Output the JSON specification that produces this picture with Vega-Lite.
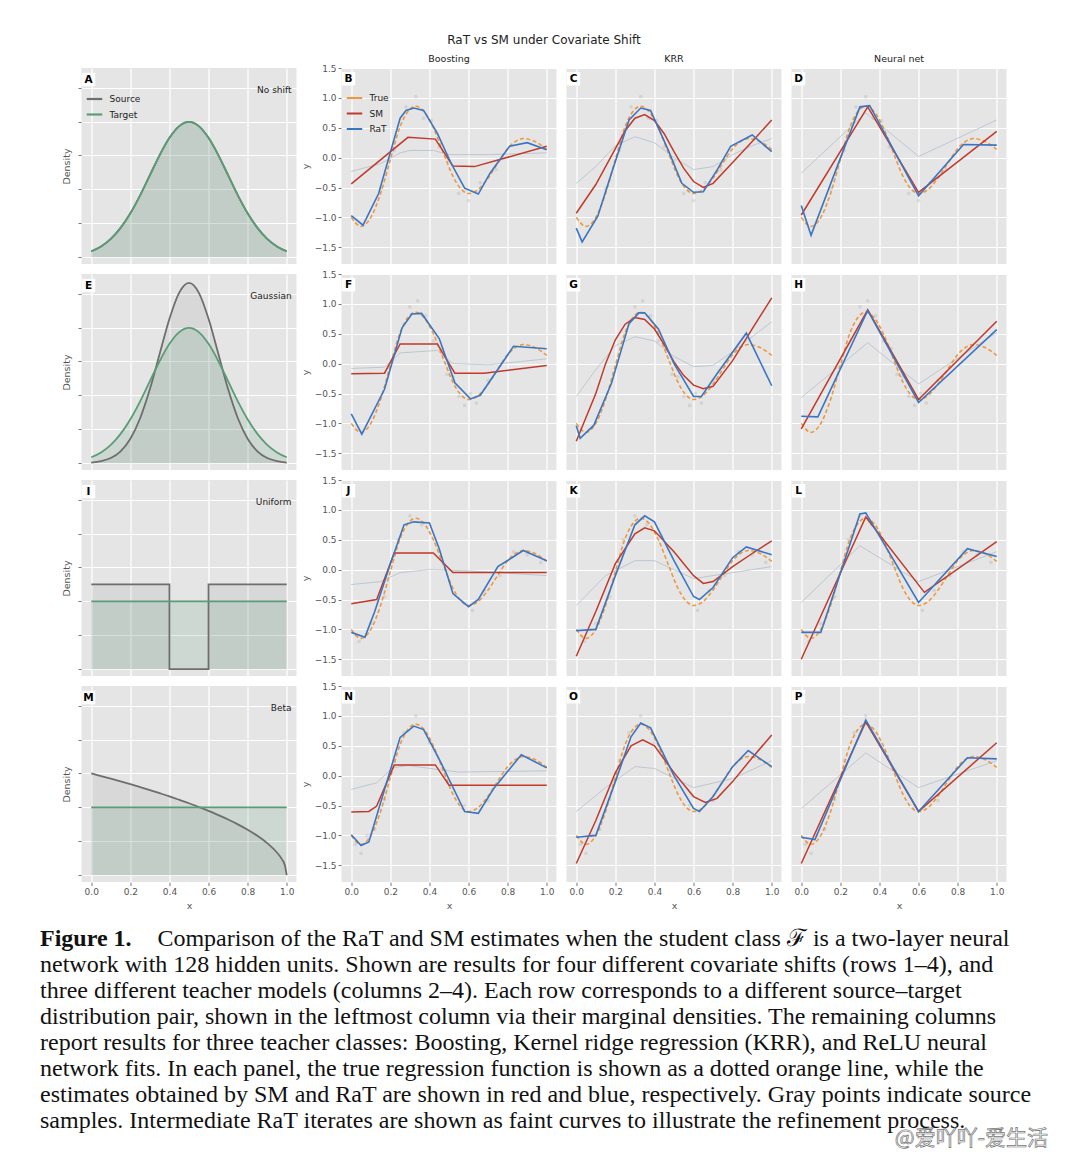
{
"$schema": "https://vega.github.io/schema/vega-lite/v6.json",
"padding": {"left": 40, "top": 33, "right": 5, "bottom": 5},
"background": "white",
"title": {"text": "RaT vs SM under Covariate Shift", "fontSize": 12, "font": "DejaVu Sans", "fontWeight": "normal", "color": "#222", "offset": 7, "anchor": "middle"},
"config": {
  "font": "DejaVu Sans",
  "view": {"fill": "#E5E5E5", "stroke": null},
  "axis": {"domain": false, "grid": true, "gridColor": "#ffffff", "gridWidth": 1.2, "tickColor": "#555", "tickSize": 3.5, "tickWidth": 0.8, "labelColor": "#555", "labelFontSize": 9, "labelFont": "DejaVu Sans", "titleFont": "DejaVu Sans", "titleFontSize": 9.5, "titleColor": "#555", "titleFontWeight": "normal", "labelPadding": 2, "labelFlush": false, "labelOverlap": false},
  "header": {"labelFont": "DejaVu Sans", "labelFontSize": 9.5, "labelColor": "#222", "labelPadding": 5},
  "legend": {"labelFont": "DejaVu Sans", "labelFontSize": 9, "labelColor": "#222", "symbolType": "stroke", "symbolStrokeWidth": 2.2, "symbolSize": 240, "rowPadding": 1.5, "labelOffset": 6, "padding": 0}
},
"datasets": {
"dens": [
{"r":1,"s":"Source","x":0,"y":0.088},{"r":1,"s":"Source","x":0.05,"y":0.159},{"r":1,"s":"Source","x":0.1,"y":0.27},{"r":1,"s":"Source","x":0.15,"y":0.432},{"r":1,"s":"Source","x":0.2,"y":0.648},{"r":1,"s":"Source","x":0.25,"y":0.913},{"r":1,"s":"Source","x":0.3,"y":1.21},{"r":1,"s":"Source","x":0.35,"y":1.506},{"r":1,"s":"Source","x":0.4,"y":1.76},{"r":1,"s":"Source","x":0.45,"y":1.933},{"r":1,"s":"Source","x":0.5,"y":1.995},{"r":1,"s":"Source","x":0.55,"y":1.933},{"r":1,"s":"Source","x":0.6,"y":1.76},{"r":1,"s":"Source","x":0.65,"y":1.506},{"r":1,"s":"Source","x":0.7,"y":1.21},{"r":1,"s":"Source","x":0.75,"y":0.913},{"r":1,"s":"Source","x":0.8,"y":0.648},{"r":1,"s":"Source","x":0.85,"y":0.432},{"r":1,"s":"Source","x":0.9,"y":0.27},{"r":1,"s":"Source","x":0.95,"y":0.159},{"r":1,"s":"Source","x":1,"y":0.088},
{"r":1,"s":"Target","x":0,"y":0.088},{"r":1,"s":"Target","x":0.05,"y":0.159},{"r":1,"s":"Target","x":0.1,"y":0.27},{"r":1,"s":"Target","x":0.15,"y":0.432},{"r":1,"s":"Target","x":0.2,"y":0.648},{"r":1,"s":"Target","x":0.25,"y":0.913},{"r":1,"s":"Target","x":0.3,"y":1.21},{"r":1,"s":"Target","x":0.35,"y":1.506},{"r":1,"s":"Target","x":0.4,"y":1.76},{"r":1,"s":"Target","x":0.45,"y":1.933},{"r":1,"s":"Target","x":0.5,"y":1.995},{"r":1,"s":"Target","x":0.55,"y":1.933},{"r":1,"s":"Target","x":0.6,"y":1.76},{"r":1,"s":"Target","x":0.65,"y":1.506},{"r":1,"s":"Target","x":0.7,"y":1.21},{"r":1,"s":"Target","x":0.75,"y":0.913},{"r":1,"s":"Target","x":0.8,"y":0.648},{"r":1,"s":"Target","x":0.85,"y":0.432},{"r":1,"s":"Target","x":0.9,"y":0.27},{"r":1,"s":"Target","x":0.95,"y":0.159},{"r":1,"s":"Target","x":1,"y":0.088},
{"r":2,"s":"Source","x":0,"y":0.01},{"r":2,"s":"Source","x":0.05,"y":0.03},{"r":2,"s":"Source","x":0.1,"y":0.076},{"r":2,"s":"Source","x":0.15,"y":0.175},{"r":2,"s":"Source","x":0.2,"y":0.36},{"r":2,"s":"Source","x":0.25,"y":0.663},{"r":2,"s":"Source","x":0.3,"y":1.093},{"r":2,"s":"Source","x":0.35,"y":1.613},{"r":2,"s":"Source","x":0.4,"y":2.13},{"r":2,"s":"Source","x":0.45,"y":2.516},{"r":2,"s":"Source","x":0.5,"y":2.66},{"r":2,"s":"Source","x":0.55,"y":2.516},{"r":2,"s":"Source","x":0.6,"y":2.13},{"r":2,"s":"Source","x":0.65,"y":1.613},{"r":2,"s":"Source","x":0.7,"y":1.093},{"r":2,"s":"Source","x":0.75,"y":0.663},{"r":2,"s":"Source","x":0.8,"y":0.36},{"r":2,"s":"Source","x":0.85,"y":0.175},{"r":2,"s":"Source","x":0.9,"y":0.076},{"r":2,"s":"Source","x":0.95,"y":0.03},{"r":2,"s":"Source","x":1,"y":0.01},
{"r":2,"s":"Target","x":0,"y":0.088},{"r":2,"s":"Target","x":0.05,"y":0.159},{"r":2,"s":"Target","x":0.1,"y":0.27},{"r":2,"s":"Target","x":0.15,"y":0.432},{"r":2,"s":"Target","x":0.2,"y":0.648},{"r":2,"s":"Target","x":0.25,"y":0.913},{"r":2,"s":"Target","x":0.3,"y":1.21},{"r":2,"s":"Target","x":0.35,"y":1.506},{"r":2,"s":"Target","x":0.4,"y":1.76},{"r":2,"s":"Target","x":0.45,"y":1.933},{"r":2,"s":"Target","x":0.5,"y":1.995},{"r":2,"s":"Target","x":0.55,"y":1.933},{"r":2,"s":"Target","x":0.6,"y":1.76},{"r":2,"s":"Target","x":0.65,"y":1.506},{"r":2,"s":"Target","x":0.7,"y":1.21},{"r":2,"s":"Target","x":0.75,"y":0.913},{"r":2,"s":"Target","x":0.8,"y":0.648},{"r":2,"s":"Target","x":0.85,"y":0.432},{"r":2,"s":"Target","x":0.9,"y":0.27},{"r":2,"s":"Target","x":0.95,"y":0.159},{"r":2,"s":"Target","x":1,"y":0.088},
{"r":3,"s":"Source","x":0,"y":1.25},{"r":3,"s":"Source","x":0.4,"y":0},{"r":3,"s":"Source","x":0.6,"y":1.25},{"r":3,"s":"Source","x":1,"y":1.25},
{"r":3,"s":"Target","x":0,"y":1},{"r":3,"s":"Target","x":1,"y":1},
{"r":4,"s":"Source","x":0,"y":1.5},{"r":4,"s":"Source","x":0.05,"y":1.462},{"r":4,"s":"Source","x":0.1,"y":1.423},{"r":4,"s":"Source","x":0.15,"y":1.383},{"r":4,"s":"Source","x":0.2,"y":1.342},{"r":4,"s":"Source","x":0.25,"y":1.299},{"r":4,"s":"Source","x":0.3,"y":1.255},{"r":4,"s":"Source","x":0.35,"y":1.209},{"r":4,"s":"Source","x":0.4,"y":1.162},{"r":4,"s":"Source","x":0.45,"y":1.112},{"r":4,"s":"Source","x":0.5,"y":1.061},{"r":4,"s":"Source","x":0.55,"y":1.006},{"r":4,"s":"Source","x":0.6,"y":0.949},{"r":4,"s":"Source","x":0.65,"y":0.887},{"r":4,"s":"Source","x":0.7,"y":0.822},{"r":4,"s":"Source","x":0.75,"y":0.75},{"r":4,"s":"Source","x":0.8,"y":0.671},{"r":4,"s":"Source","x":0.85,"y":0.581},{"r":4,"s":"Source","x":0.9,"y":0.474},{"r":4,"s":"Source","x":0.95,"y":0.335},{"r":4,"s":"Source","x":0.975,"y":0.237},{"r":4,"s":"Source","x":0.99,"y":0.15},{"r":4,"s":"Source","x":1,"y":0},
{"r":4,"s":"Target","x":0,"y":1},{"r":4,"s":"Target","x":1,"y":1},
{"r":1,"s":"let","t":"A"},{"r":2,"s":"let","t":"E"},{"r":3,"s":"let","t":"I"},{"r":4,"s":"let","t":"M"},
{"r":1,"s":"lab","t":"No shift"},{"r":2,"s":"lab","t":"Gaussian"},{"r":3,"s":"lab","t":"Uniform"},{"r":4,"s":"lab","t":"Beta"}
],
"reg": [
{"r":1,"c":1,"s":"pt","x":0.15,"y":-0.52},{"r":1,"c":1,"s":"pt","x":0.22,"y":0.12},{"r":1,"c":1,"s":"pt","x":0.28,"y":0.85},{"r":1,"c":1,"s":"pt","x":0.33,"y":1.02},{"r":1,"c":1,"s":"pt","x":0.37,"y":0.66},{"r":1,"c":1,"s":"pt","x":0.41,"y":0.62},{"r":1,"c":1,"s":"pt","x":0.45,"y":0.18},{"r":1,"c":1,"s":"pt","x":0.5,"y":-0.05},{"r":1,"c":1,"s":"pt","x":0.55,"y":-0.6},{"r":1,"c":1,"s":"pt","x":0.6,"y":-0.72},{"r":1,"c":1,"s":"pt","x":0.66,"y":-0.42},{"r":1,"c":1,"s":"pt","x":0.74,"y":-0.2},
{"r":1,"c":2,"s":"pt","x":0.15,"y":-0.52},{"r":1,"c":2,"s":"pt","x":0.22,"y":0.12},{"r":1,"c":2,"s":"pt","x":0.28,"y":0.85},{"r":1,"c":2,"s":"pt","x":0.33,"y":1.02},{"r":1,"c":2,"s":"pt","x":0.37,"y":0.66},{"r":1,"c":2,"s":"pt","x":0.41,"y":0.62},{"r":1,"c":2,"s":"pt","x":0.45,"y":0.18},{"r":1,"c":2,"s":"pt","x":0.5,"y":-0.05},{"r":1,"c":2,"s":"pt","x":0.55,"y":-0.6},{"r":1,"c":2,"s":"pt","x":0.6,"y":-0.72},{"r":1,"c":2,"s":"pt","x":0.66,"y":-0.42},{"r":1,"c":2,"s":"pt","x":0.74,"y":-0.2},
{"r":1,"c":3,"s":"pt","x":0.15,"y":-0.52},{"r":1,"c":3,"s":"pt","x":0.22,"y":0.12},{"r":1,"c":3,"s":"pt","x":0.28,"y":0.85},{"r":1,"c":3,"s":"pt","x":0.33,"y":1.02},{"r":1,"c":3,"s":"pt","x":0.37,"y":0.66},{"r":1,"c":3,"s":"pt","x":0.41,"y":0.62},{"r":1,"c":3,"s":"pt","x":0.45,"y":0.18},{"r":1,"c":3,"s":"pt","x":0.5,"y":-0.05},{"r":1,"c":3,"s":"pt","x":0.55,"y":-0.6},{"r":1,"c":3,"s":"pt","x":0.6,"y":-0.72},{"r":1,"c":3,"s":"pt","x":0.66,"y":-0.42},{"r":1,"c":3,"s":"pt","x":0.74,"y":-0.2},
{"r":2,"c":1,"s":"pt","x":0.3,"y":0.95},{"r":2,"c":1,"s":"pt","x":0.34,"y":1.05},{"r":2,"c":1,"s":"pt","x":0.38,"y":0.8},{"r":2,"c":1,"s":"pt","x":0.42,"y":0.38},{"r":2,"c":1,"s":"pt","x":0.46,"y":0.25},{"r":2,"c":1,"s":"pt","x":0.49,"y":-0.18},{"r":2,"c":1,"s":"pt","x":0.52,"y":-0.22},{"r":2,"c":1,"s":"pt","x":0.55,"y":-0.55},{"r":2,"c":1,"s":"pt","x":0.58,"y":-0.7},{"r":2,"c":1,"s":"pt","x":0.61,"y":-0.5},{"r":2,"c":1,"s":"pt","x":0.64,"y":-0.66},{"r":2,"c":1,"s":"pt","x":0.7,"y":-0.28},
{"r":2,"c":2,"s":"pt","x":0.3,"y":0.95},{"r":2,"c":2,"s":"pt","x":0.34,"y":1.05},{"r":2,"c":2,"s":"pt","x":0.38,"y":0.8},{"r":2,"c":2,"s":"pt","x":0.42,"y":0.38},{"r":2,"c":2,"s":"pt","x":0.46,"y":0.25},{"r":2,"c":2,"s":"pt","x":0.49,"y":-0.18},{"r":2,"c":2,"s":"pt","x":0.52,"y":-0.22},{"r":2,"c":2,"s":"pt","x":0.55,"y":-0.55},{"r":2,"c":2,"s":"pt","x":0.58,"y":-0.7},{"r":2,"c":2,"s":"pt","x":0.61,"y":-0.5},{"r":2,"c":2,"s":"pt","x":0.64,"y":-0.66},{"r":2,"c":2,"s":"pt","x":0.7,"y":-0.28},
{"r":2,"c":3,"s":"pt","x":0.3,"y":0.95},{"r":2,"c":3,"s":"pt","x":0.34,"y":1.05},{"r":2,"c":3,"s":"pt","x":0.38,"y":0.8},{"r":2,"c":3,"s":"pt","x":0.42,"y":0.38},{"r":2,"c":3,"s":"pt","x":0.46,"y":0.25},{"r":2,"c":3,"s":"pt","x":0.49,"y":-0.18},{"r":2,"c":3,"s":"pt","x":0.52,"y":-0.22},{"r":2,"c":3,"s":"pt","x":0.55,"y":-0.55},{"r":2,"c":3,"s":"pt","x":0.58,"y":-0.7},{"r":2,"c":3,"s":"pt","x":0.61,"y":-0.5},{"r":2,"c":3,"s":"pt","x":0.64,"y":-0.66},{"r":2,"c":3,"s":"pt","x":0.7,"y":-0.28},
{"r":3,"c":1,"s":"pt","x":0.04,"y":-1.2},{"r":3,"c":1,"s":"pt","x":0.1,"y":-0.9},{"r":3,"c":1,"s":"pt","x":0.17,"y":-0.45},{"r":3,"c":1,"s":"pt","x":0.24,"y":0.5},{"r":3,"c":1,"s":"pt","x":0.3,"y":0.9},{"r":3,"c":1,"s":"pt","x":0.36,"y":0.75},{"r":3,"c":1,"s":"pt","x":0.62,"y":-0.68},{"r":3,"c":1,"s":"pt","x":0.68,"y":-0.35},{"r":3,"c":1,"s":"pt","x":0.76,"y":-0.1},{"r":3,"c":1,"s":"pt","x":0.83,"y":0.3},{"r":3,"c":1,"s":"pt","x":0.9,"y":0.25},{"r":3,"c":1,"s":"pt","x":0.97,"y":0.12},
{"r":3,"c":2,"s":"pt","x":0.04,"y":-1.2},{"r":3,"c":2,"s":"pt","x":0.1,"y":-0.9},{"r":3,"c":2,"s":"pt","x":0.17,"y":-0.45},{"r":3,"c":2,"s":"pt","x":0.24,"y":0.5},{"r":3,"c":2,"s":"pt","x":0.3,"y":0.9},{"r":3,"c":2,"s":"pt","x":0.36,"y":0.75},{"r":3,"c":2,"s":"pt","x":0.62,"y":-0.68},{"r":3,"c":2,"s":"pt","x":0.68,"y":-0.35},{"r":3,"c":2,"s":"pt","x":0.76,"y":-0.1},{"r":3,"c":2,"s":"pt","x":0.83,"y":0.3},{"r":3,"c":2,"s":"pt","x":0.9,"y":0.25},{"r":3,"c":2,"s":"pt","x":0.97,"y":0.12},
{"r":3,"c":3,"s":"pt","x":0.04,"y":-1.2},{"r":3,"c":3,"s":"pt","x":0.1,"y":-0.9},{"r":3,"c":3,"s":"pt","x":0.17,"y":-0.45},{"r":3,"c":3,"s":"pt","x":0.24,"y":0.5},{"r":3,"c":3,"s":"pt","x":0.3,"y":0.9},{"r":3,"c":3,"s":"pt","x":0.36,"y":0.75},{"r":3,"c":3,"s":"pt","x":0.62,"y":-0.68},{"r":3,"c":3,"s":"pt","x":0.68,"y":-0.35},{"r":3,"c":3,"s":"pt","x":0.76,"y":-0.1},{"r":3,"c":3,"s":"pt","x":0.83,"y":0.3},{"r":3,"c":3,"s":"pt","x":0.9,"y":0.25},{"r":3,"c":3,"s":"pt","x":0.97,"y":0.12},
{"r":4,"c":1,"s":"pt","x":0.02,"y":-1.15},{"r":4,"c":1,"s":"pt","x":0.05,"y":-1.3},{"r":4,"c":1,"s":"pt","x":0.08,"y":-1.0},{"r":4,"c":1,"s":"pt","x":0.12,"y":-0.9},{"r":4,"c":1,"s":"pt","x":0.17,"y":-0.4},{"r":4,"c":1,"s":"pt","x":0.22,"y":0.25},{"r":4,"c":1,"s":"pt","x":0.27,"y":0.72},{"r":4,"c":1,"s":"pt","x":0.33,"y":1.0},{"r":4,"c":1,"s":"pt","x":0.4,"y":0.55},{"r":4,"c":1,"s":"pt","x":0.48,"y":0.08},{"r":4,"c":1,"s":"pt","x":0.58,"y":-0.5},{"r":4,"c":1,"s":"pt","x":0.7,"y":-0.42},
{"r":4,"c":2,"s":"pt","x":0.02,"y":-1.15},{"r":4,"c":2,"s":"pt","x":0.05,"y":-1.3},{"r":4,"c":2,"s":"pt","x":0.08,"y":-1.0},{"r":4,"c":2,"s":"pt","x":0.12,"y":-0.9},{"r":4,"c":2,"s":"pt","x":0.17,"y":-0.4},{"r":4,"c":2,"s":"pt","x":0.22,"y":0.25},{"r":4,"c":2,"s":"pt","x":0.27,"y":0.72},{"r":4,"c":2,"s":"pt","x":0.33,"y":1.0},{"r":4,"c":2,"s":"pt","x":0.4,"y":0.55},{"r":4,"c":2,"s":"pt","x":0.48,"y":0.08},{"r":4,"c":2,"s":"pt","x":0.58,"y":-0.5},{"r":4,"c":2,"s":"pt","x":0.7,"y":-0.42},
{"r":4,"c":3,"s":"pt","x":0.02,"y":-1.15},{"r":4,"c":3,"s":"pt","x":0.05,"y":-1.3},{"r":4,"c":3,"s":"pt","x":0.08,"y":-1.0},{"r":4,"c":3,"s":"pt","x":0.12,"y":-0.9},{"r":4,"c":3,"s":"pt","x":0.17,"y":-0.4},{"r":4,"c":3,"s":"pt","x":0.22,"y":0.25},{"r":4,"c":3,"s":"pt","x":0.27,"y":0.72},{"r":4,"c":3,"s":"pt","x":0.33,"y":1.0},{"r":4,"c":3,"s":"pt","x":0.4,"y":0.55},{"r":4,"c":3,"s":"pt","x":0.48,"y":0.08},{"r":4,"c":3,"s":"pt","x":0.58,"y":-0.5},{"r":4,"c":3,"s":"pt","x":0.7,"y":-0.42},

{"r":1,"c":1,"s":"it","x":0,"y":-0.23},{"r":1,"c":1,"s":"it","x":0.15,"y":-0.1},{"r":1,"c":1,"s":"it","x":0.25,"y":0.08},{"r":1,"c":1,"s":"it","x":0.3,"y":0.12},{"r":1,"c":1,"s":"it","x":0.42,"y":0.12},{"r":1,"c":1,"s":"it","x":0.5,"y":0.05},{"r":1,"c":1,"s":"it","x":0.7,"y":0.05},{"r":1,"c":1,"s":"it","x":1,"y":0.08},
{"r":1,"c":2,"s":"it","x":0,"y":-0.43},{"r":1,"c":2,"s":"it","x":0.1,"y":-0.15},{"r":1,"c":2,"s":"it","x":0.2,"y":0.2},{"r":1,"c":2,"s":"it","x":0.3,"y":0.35},{"r":1,"c":2,"s":"it","x":0.4,"y":0.25},{"r":1,"c":2,"s":"it","x":0.5,"y":0.0},{"r":1,"c":2,"s":"it","x":0.6,"y":-0.2},{"r":1,"c":2,"s":"it","x":0.7,"y":-0.15},{"r":1,"c":2,"s":"it","x":0.8,"y":0.05},{"r":1,"c":2,"s":"it","x":0.9,"y":0.2},{"r":1,"c":2,"s":"it","x":1,"y":0.32},
{"r":1,"c":3,"s":"it","x":0,"y":-0.26},{"r":1,"c":3,"s":"it","x":0.33,"y":0.75},{"r":1,"c":3,"s":"it","x":0.6,"y":0.02},{"r":1,"c":3,"s":"it","x":1,"y":0.63},
{"r":2,"c":1,"s":"it","x":0,"y":-0.08},{"r":2,"c":1,"s":"it","x":0.17,"y":-0.06},{"r":2,"c":1,"s":"it","x":0.25,"y":0.18},{"r":2,"c":1,"s":"it","x":0.44,"y":0.22},{"r":2,"c":1,"s":"it","x":0.52,"y":0.0},{"r":2,"c":1,"s":"it","x":0.7,"y":-0.02},{"r":2,"c":1,"s":"it","x":1,"y":0.08},
{"r":2,"c":2,"s":"it","x":0,"y":-0.55},{"r":2,"c":2,"s":"it","x":0.1,"y":-0.1},{"r":2,"c":2,"s":"it","x":0.2,"y":0.3},{"r":2,"c":2,"s":"it","x":0.3,"y":0.45},{"r":2,"c":2,"s":"it","x":0.4,"y":0.38},{"r":2,"c":2,"s":"it","x":0.5,"y":0.12},{"r":2,"c":2,"s":"it","x":0.6,"y":-0.05},{"r":2,"c":2,"s":"it","x":0.7,"y":-0.03},{"r":2,"c":2,"s":"it","x":0.8,"y":0.2},{"r":2,"c":2,"s":"it","x":0.9,"y":0.45},{"r":2,"c":2,"s":"it","x":1,"y":0.7},
{"r":2,"c":3,"s":"it","x":0,"y":-0.57},{"r":2,"c":3,"s":"it","x":0.34,"y":0.35},{"r":2,"c":3,"s":"it","x":0.6,"y":-0.34},{"r":2,"c":3,"s":"it","x":1,"y":0.52},
{"r":3,"c":1,"s":"it","x":0,"y":-0.25},{"r":3,"c":1,"s":"it","x":0.15,"y":-0.2},{"r":3,"c":1,"s":"it","x":0.25,"y":-0.05},{"r":3,"c":1,"s":"it","x":0.4,"y":0.0},{"r":3,"c":1,"s":"it","x":0.6,"y":-0.02},{"r":3,"c":1,"s":"it","x":1,"y":-0.1},
{"r":3,"c":2,"s":"it","x":0,"y":-0.6},{"r":3,"c":2,"s":"it","x":0.15,"y":-0.1},{"r":3,"c":2,"s":"it","x":0.3,"y":0.15},{"r":3,"c":2,"s":"it","x":0.4,"y":0.15},{"r":3,"c":2,"s":"it","x":0.6,"y":-0.15},{"r":3,"c":2,"s":"it","x":0.8,"y":-0.05},{"r":3,"c":2,"s":"it","x":1,"y":0.05},
{"r":3,"c":3,"s":"it","x":0,"y":-0.55},{"r":3,"c":3,"s":"it","x":0.3,"y":0.4},{"r":3,"c":3,"s":"it","x":0.6,"y":-0.2},{"r":3,"c":3,"s":"it","x":1,"y":0.3},
{"r":4,"c":1,"s":"it","x":0,"y":-0.23},{"r":4,"c":1,"s":"it","x":0.13,"y":-0.12},{"r":4,"c":1,"s":"it","x":0.21,"y":0.13},{"r":4,"c":1,"s":"it","x":0.29,"y":0.17},{"r":4,"c":1,"s":"it","x":0.45,"y":0.1},{"r":4,"c":1,"s":"it","x":0.55,"y":0.06},{"r":4,"c":1,"s":"it","x":1,"y":0.08},
{"r":4,"c":2,"s":"it","x":0,"y":-0.6},{"r":4,"c":2,"s":"it","x":0.15,"y":-0.2},{"r":4,"c":2,"s":"it","x":0.3,"y":0.15},{"r":4,"c":2,"s":"it","x":0.4,"y":0.12},{"r":4,"c":2,"s":"it","x":0.6,"y":-0.2},{"r":4,"c":2,"s":"it","x":0.8,"y":-0.05},{"r":4,"c":2,"s":"it","x":1,"y":0.25},
{"r":4,"c":3,"s":"it","x":0,"y":-0.55},{"r":4,"c":3,"s":"it","x":0.33,"y":0.38},{"r":4,"c":3,"s":"it","x":0.6,"y":-0.2},{"r":4,"c":3,"s":"it","x":1,"y":0.25},

{"r":1,"c":1,"s":"True","x":0,"y":-1.0},{"r":1,"c":1,"s":"True","x":0.05,"y":-1.15},{"r":1,"c":1,"s":"True","x":0.1,"y":-1.0},{"r":1,"c":1,"s":"True","x":0.15,"y":-0.6},{"r":1,"c":1,"s":"True","x":0.2,"y":-0.03},{"r":1,"c":1,"s":"True","x":0.25,"y":0.52},{"r":1,"c":1,"s":"True","x":0.3,"y":0.81},{"r":1,"c":1,"s":"True","x":0.33,"y":0.86},{"r":1,"c":1,"s":"True","x":0.37,"y":0.78},{"r":1,"c":1,"s":"True","x":0.42,"y":0.5},{"r":1,"c":1,"s":"True","x":0.47,"y":0.09},{"r":1,"c":1,"s":"True","x":0.52,"y":-0.31},{"r":1,"c":1,"s":"True","x":0.56,"y":-0.52},{"r":1,"c":1,"s":"True","x":0.6,"y":-0.6},{"r":1,"c":1,"s":"True","x":0.65,"y":-0.53},{"r":1,"c":1,"s":"True","x":0.7,"y":-0.34},{"r":1,"c":1,"s":"True","x":0.75,"y":-0.09},{"r":1,"c":1,"s":"True","x":0.8,"y":0.15},{"r":1,"c":1,"s":"True","x":0.84,"y":0.27},{"r":1,"c":1,"s":"True","x":0.88,"y":0.32},{"r":1,"c":1,"s":"True","x":0.94,"y":0.27},{"r":1,"c":1,"s":"True","x":1,"y":0.14},
{"r":1,"c":2,"s":"True","x":0,"y":-1.0},{"r":1,"c":2,"s":"True","x":0.05,"y":-1.15},{"r":1,"c":2,"s":"True","x":0.1,"y":-1.0},{"r":1,"c":2,"s":"True","x":0.15,"y":-0.6},{"r":1,"c":2,"s":"True","x":0.2,"y":-0.03},{"r":1,"c":2,"s":"True","x":0.25,"y":0.52},{"r":1,"c":2,"s":"True","x":0.3,"y":0.81},{"r":1,"c":2,"s":"True","x":0.33,"y":0.86},{"r":1,"c":2,"s":"True","x":0.37,"y":0.78},{"r":1,"c":2,"s":"True","x":0.42,"y":0.5},{"r":1,"c":2,"s":"True","x":0.47,"y":0.09},{"r":1,"c":2,"s":"True","x":0.52,"y":-0.31},{"r":1,"c":2,"s":"True","x":0.56,"y":-0.52},{"r":1,"c":2,"s":"True","x":0.6,"y":-0.6},{"r":1,"c":2,"s":"True","x":0.65,"y":-0.53},{"r":1,"c":2,"s":"True","x":0.7,"y":-0.34},{"r":1,"c":2,"s":"True","x":0.75,"y":-0.09},{"r":1,"c":2,"s":"True","x":0.8,"y":0.15},{"r":1,"c":2,"s":"True","x":0.84,"y":0.27},{"r":1,"c":2,"s":"True","x":0.88,"y":0.32},{"r":1,"c":2,"s":"True","x":0.94,"y":0.27},{"r":1,"c":2,"s":"True","x":1,"y":0.14},
{"r":1,"c":3,"s":"True","x":0,"y":-1.0},{"r":1,"c":3,"s":"True","x":0.05,"y":-1.15},{"r":1,"c":3,"s":"True","x":0.1,"y":-1.0},{"r":1,"c":3,"s":"True","x":0.15,"y":-0.6},{"r":1,"c":3,"s":"True","x":0.2,"y":-0.03},{"r":1,"c":3,"s":"True","x":0.25,"y":0.52},{"r":1,"c":3,"s":"True","x":0.3,"y":0.81},{"r":1,"c":3,"s":"True","x":0.33,"y":0.86},{"r":1,"c":3,"s":"True","x":0.37,"y":0.78},{"r":1,"c":3,"s":"True","x":0.42,"y":0.5},{"r":1,"c":3,"s":"True","x":0.47,"y":0.09},{"r":1,"c":3,"s":"True","x":0.52,"y":-0.31},{"r":1,"c":3,"s":"True","x":0.56,"y":-0.52},{"r":1,"c":3,"s":"True","x":0.6,"y":-0.6},{"r":1,"c":3,"s":"True","x":0.65,"y":-0.53},{"r":1,"c":3,"s":"True","x":0.7,"y":-0.34},{"r":1,"c":3,"s":"True","x":0.75,"y":-0.09},{"r":1,"c":3,"s":"True","x":0.8,"y":0.15},{"r":1,"c":3,"s":"True","x":0.84,"y":0.27},{"r":1,"c":3,"s":"True","x":0.88,"y":0.32},{"r":1,"c":3,"s":"True","x":0.94,"y":0.27},{"r":1,"c":3,"s":"True","x":1,"y":0.14},
{"r":2,"c":1,"s":"True","x":0,"y":-1.0},{"r":2,"c":1,"s":"True","x":0.05,"y":-1.15},{"r":2,"c":1,"s":"True","x":0.1,"y":-1.0},{"r":2,"c":1,"s":"True","x":0.15,"y":-0.6},{"r":2,"c":1,"s":"True","x":0.2,"y":-0.03},{"r":2,"c":1,"s":"True","x":0.25,"y":0.52},{"r":2,"c":1,"s":"True","x":0.3,"y":0.81},{"r":2,"c":1,"s":"True","x":0.33,"y":0.86},{"r":2,"c":1,"s":"True","x":0.37,"y":0.78},{"r":2,"c":1,"s":"True","x":0.42,"y":0.5},{"r":2,"c":1,"s":"True","x":0.47,"y":0.09},{"r":2,"c":1,"s":"True","x":0.52,"y":-0.31},{"r":2,"c":1,"s":"True","x":0.56,"y":-0.52},{"r":2,"c":1,"s":"True","x":0.6,"y":-0.6},{"r":2,"c":1,"s":"True","x":0.65,"y":-0.53},{"r":2,"c":1,"s":"True","x":0.7,"y":-0.34},{"r":2,"c":1,"s":"True","x":0.75,"y":-0.09},{"r":2,"c":1,"s":"True","x":0.8,"y":0.15},{"r":2,"c":1,"s":"True","x":0.84,"y":0.27},{"r":2,"c":1,"s":"True","x":0.88,"y":0.32},{"r":2,"c":1,"s":"True","x":0.94,"y":0.27},{"r":2,"c":1,"s":"True","x":1,"y":0.14},
{"r":2,"c":2,"s":"True","x":0,"y":-1.0},{"r":2,"c":2,"s":"True","x":0.05,"y":-1.15},{"r":2,"c":2,"s":"True","x":0.1,"y":-1.0},{"r":2,"c":2,"s":"True","x":0.15,"y":-0.6},{"r":2,"c":2,"s":"True","x":0.2,"y":-0.03},{"r":2,"c":2,"s":"True","x":0.25,"y":0.52},{"r":2,"c":2,"s":"True","x":0.3,"y":0.81},{"r":2,"c":2,"s":"True","x":0.33,"y":0.86},{"r":2,"c":2,"s":"True","x":0.37,"y":0.78},{"r":2,"c":2,"s":"True","x":0.42,"y":0.5},{"r":2,"c":2,"s":"True","x":0.47,"y":0.09},{"r":2,"c":2,"s":"True","x":0.52,"y":-0.31},{"r":2,"c":2,"s":"True","x":0.56,"y":-0.52},{"r":2,"c":2,"s":"True","x":0.6,"y":-0.6},{"r":2,"c":2,"s":"True","x":0.65,"y":-0.53},{"r":2,"c":2,"s":"True","x":0.7,"y":-0.34},{"r":2,"c":2,"s":"True","x":0.75,"y":-0.09},{"r":2,"c":2,"s":"True","x":0.8,"y":0.15},{"r":2,"c":2,"s":"True","x":0.84,"y":0.27},{"r":2,"c":2,"s":"True","x":0.88,"y":0.32},{"r":2,"c":2,"s":"True","x":0.94,"y":0.27},{"r":2,"c":2,"s":"True","x":1,"y":0.14},
{"r":2,"c":3,"s":"True","x":0,"y":-1.0},{"r":2,"c":3,"s":"True","x":0.05,"y":-1.15},{"r":2,"c":3,"s":"True","x":0.1,"y":-1.0},{"r":2,"c":3,"s":"True","x":0.15,"y":-0.6},{"r":2,"c":3,"s":"True","x":0.2,"y":-0.03},{"r":2,"c":3,"s":"True","x":0.25,"y":0.52},{"r":2,"c":3,"s":"True","x":0.3,"y":0.81},{"r":2,"c":3,"s":"True","x":0.33,"y":0.86},{"r":2,"c":3,"s":"True","x":0.37,"y":0.78},{"r":2,"c":3,"s":"True","x":0.42,"y":0.5},{"r":2,"c":3,"s":"True","x":0.47,"y":0.09},{"r":2,"c":3,"s":"True","x":0.52,"y":-0.31},{"r":2,"c":3,"s":"True","x":0.56,"y":-0.52},{"r":2,"c":3,"s":"True","x":0.6,"y":-0.6},{"r":2,"c":3,"s":"True","x":0.65,"y":-0.53},{"r":2,"c":3,"s":"True","x":0.7,"y":-0.34},{"r":2,"c":3,"s":"True","x":0.75,"y":-0.09},{"r":2,"c":3,"s":"True","x":0.8,"y":0.15},{"r":2,"c":3,"s":"True","x":0.84,"y":0.27},{"r":2,"c":3,"s":"True","x":0.88,"y":0.32},{"r":2,"c":3,"s":"True","x":0.94,"y":0.27},{"r":2,"c":3,"s":"True","x":1,"y":0.14},
{"r":3,"c":1,"s":"True","x":0,"y":-1.0},{"r":3,"c":1,"s":"True","x":0.05,"y":-1.15},{"r":3,"c":1,"s":"True","x":0.1,"y":-1.0},{"r":3,"c":1,"s":"True","x":0.15,"y":-0.6},{"r":3,"c":1,"s":"True","x":0.2,"y":-0.03},{"r":3,"c":1,"s":"True","x":0.25,"y":0.52},{"r":3,"c":1,"s":"True","x":0.3,"y":0.81},{"r":3,"c":1,"s":"True","x":0.33,"y":0.86},{"r":3,"c":1,"s":"True","x":0.37,"y":0.78},{"r":3,"c":1,"s":"True","x":0.42,"y":0.5},{"r":3,"c":1,"s":"True","x":0.47,"y":0.09},{"r":3,"c":1,"s":"True","x":0.52,"y":-0.31},{"r":3,"c":1,"s":"True","x":0.56,"y":-0.52},{"r":3,"c":1,"s":"True","x":0.6,"y":-0.6},{"r":3,"c":1,"s":"True","x":0.65,"y":-0.53},{"r":3,"c":1,"s":"True","x":0.7,"y":-0.34},{"r":3,"c":1,"s":"True","x":0.75,"y":-0.09},{"r":3,"c":1,"s":"True","x":0.8,"y":0.15},{"r":3,"c":1,"s":"True","x":0.84,"y":0.27},{"r":3,"c":1,"s":"True","x":0.88,"y":0.32},{"r":3,"c":1,"s":"True","x":0.94,"y":0.27},{"r":3,"c":1,"s":"True","x":1,"y":0.14},
{"r":3,"c":2,"s":"True","x":0,"y":-1.0},{"r":3,"c":2,"s":"True","x":0.05,"y":-1.15},{"r":3,"c":2,"s":"True","x":0.1,"y":-1.0},{"r":3,"c":2,"s":"True","x":0.15,"y":-0.6},{"r":3,"c":2,"s":"True","x":0.2,"y":-0.03},{"r":3,"c":2,"s":"True","x":0.25,"y":0.52},{"r":3,"c":2,"s":"True","x":0.3,"y":0.81},{"r":3,"c":2,"s":"True","x":0.33,"y":0.86},{"r":3,"c":2,"s":"True","x":0.37,"y":0.78},{"r":3,"c":2,"s":"True","x":0.42,"y":0.5},{"r":3,"c":2,"s":"True","x":0.47,"y":0.09},{"r":3,"c":2,"s":"True","x":0.52,"y":-0.31},{"r":3,"c":2,"s":"True","x":0.56,"y":-0.52},{"r":3,"c":2,"s":"True","x":0.6,"y":-0.6},{"r":3,"c":2,"s":"True","x":0.65,"y":-0.53},{"r":3,"c":2,"s":"True","x":0.7,"y":-0.34},{"r":3,"c":2,"s":"True","x":0.75,"y":-0.09},{"r":3,"c":2,"s":"True","x":0.8,"y":0.15},{"r":3,"c":2,"s":"True","x":0.84,"y":0.27},{"r":3,"c":2,"s":"True","x":0.88,"y":0.32},{"r":3,"c":2,"s":"True","x":0.94,"y":0.27},{"r":3,"c":2,"s":"True","x":1,"y":0.14},
{"r":3,"c":3,"s":"True","x":0,"y":-1.0},{"r":3,"c":3,"s":"True","x":0.05,"y":-1.15},{"r":3,"c":3,"s":"True","x":0.1,"y":-1.0},{"r":3,"c":3,"s":"True","x":0.15,"y":-0.6},{"r":3,"c":3,"s":"True","x":0.2,"y":-0.03},{"r":3,"c":3,"s":"True","x":0.25,"y":0.52},{"r":3,"c":3,"s":"True","x":0.3,"y":0.81},{"r":3,"c":3,"s":"True","x":0.33,"y":0.86},{"r":3,"c":3,"s":"True","x":0.37,"y":0.78},{"r":3,"c":3,"s":"True","x":0.42,"y":0.5},{"r":3,"c":3,"s":"True","x":0.47,"y":0.09},{"r":3,"c":3,"s":"True","x":0.52,"y":-0.31},{"r":3,"c":3,"s":"True","x":0.56,"y":-0.52},{"r":3,"c":3,"s":"True","x":0.6,"y":-0.6},{"r":3,"c":3,"s":"True","x":0.65,"y":-0.53},{"r":3,"c":3,"s":"True","x":0.7,"y":-0.34},{"r":3,"c":3,"s":"True","x":0.75,"y":-0.09},{"r":3,"c":3,"s":"True","x":0.8,"y":0.15},{"r":3,"c":3,"s":"True","x":0.84,"y":0.27},{"r":3,"c":3,"s":"True","x":0.88,"y":0.32},{"r":3,"c":3,"s":"True","x":0.94,"y":0.27},{"r":3,"c":3,"s":"True","x":1,"y":0.14},
{"r":4,"c":1,"s":"True","x":0,"y":-1.0},{"r":4,"c":1,"s":"True","x":0.05,"y":-1.15},{"r":4,"c":1,"s":"True","x":0.1,"y":-1.0},{"r":4,"c":1,"s":"True","x":0.15,"y":-0.6},{"r":4,"c":1,"s":"True","x":0.2,"y":-0.03},{"r":4,"c":1,"s":"True","x":0.25,"y":0.52},{"r":4,"c":1,"s":"True","x":0.3,"y":0.81},{"r":4,"c":1,"s":"True","x":0.33,"y":0.86},{"r":4,"c":1,"s":"True","x":0.37,"y":0.78},{"r":4,"c":1,"s":"True","x":0.42,"y":0.5},{"r":4,"c":1,"s":"True","x":0.47,"y":0.09},{"r":4,"c":1,"s":"True","x":0.52,"y":-0.31},{"r":4,"c":1,"s":"True","x":0.56,"y":-0.52},{"r":4,"c":1,"s":"True","x":0.6,"y":-0.6},{"r":4,"c":1,"s":"True","x":0.65,"y":-0.53},{"r":4,"c":1,"s":"True","x":0.7,"y":-0.34},{"r":4,"c":1,"s":"True","x":0.75,"y":-0.09},{"r":4,"c":1,"s":"True","x":0.8,"y":0.15},{"r":4,"c":1,"s":"True","x":0.84,"y":0.27},{"r":4,"c":1,"s":"True","x":0.88,"y":0.32},{"r":4,"c":1,"s":"True","x":0.94,"y":0.27},{"r":4,"c":1,"s":"True","x":1,"y":0.14},
{"r":4,"c":2,"s":"True","x":0,"y":-1.0},{"r":4,"c":2,"s":"True","x":0.05,"y":-1.15},{"r":4,"c":2,"s":"True","x":0.1,"y":-1.0},{"r":4,"c":2,"s":"True","x":0.15,"y":-0.6},{"r":4,"c":2,"s":"True","x":0.2,"y":-0.03},{"r":4,"c":2,"s":"True","x":0.25,"y":0.52},{"r":4,"c":2,"s":"True","x":0.3,"y":0.81},{"r":4,"c":2,"s":"True","x":0.33,"y":0.86},{"r":4,"c":2,"s":"True","x":0.37,"y":0.78},{"r":4,"c":2,"s":"True","x":0.42,"y":0.5},{"r":4,"c":2,"s":"True","x":0.47,"y":0.09},{"r":4,"c":2,"s":"True","x":0.52,"y":-0.31},{"r":4,"c":2,"s":"True","x":0.56,"y":-0.52},{"r":4,"c":2,"s":"True","x":0.6,"y":-0.6},{"r":4,"c":2,"s":"True","x":0.65,"y":-0.53},{"r":4,"c":2,"s":"True","x":0.7,"y":-0.34},{"r":4,"c":2,"s":"True","x":0.75,"y":-0.09},{"r":4,"c":2,"s":"True","x":0.8,"y":0.15},{"r":4,"c":2,"s":"True","x":0.84,"y":0.27},{"r":4,"c":2,"s":"True","x":0.88,"y":0.32},{"r":4,"c":2,"s":"True","x":0.94,"y":0.27},{"r":4,"c":2,"s":"True","x":1,"y":0.14},
{"r":4,"c":3,"s":"True","x":0,"y":-1.0},{"r":4,"c":3,"s":"True","x":0.05,"y":-1.15},{"r":4,"c":3,"s":"True","x":0.1,"y":-1.0},{"r":4,"c":3,"s":"True","x":0.15,"y":-0.6},{"r":4,"c":3,"s":"True","x":0.2,"y":-0.03},{"r":4,"c":3,"s":"True","x":0.25,"y":0.52},{"r":4,"c":3,"s":"True","x":0.3,"y":0.81},{"r":4,"c":3,"s":"True","x":0.33,"y":0.86},{"r":4,"c":3,"s":"True","x":0.37,"y":0.78},{"r":4,"c":3,"s":"True","x":0.42,"y":0.5},{"r":4,"c":3,"s":"True","x":0.47,"y":0.09},{"r":4,"c":3,"s":"True","x":0.52,"y":-0.31},{"r":4,"c":3,"s":"True","x":0.56,"y":-0.52},{"r":4,"c":3,"s":"True","x":0.6,"y":-0.6},{"r":4,"c":3,"s":"True","x":0.65,"y":-0.53},{"r":4,"c":3,"s":"True","x":0.7,"y":-0.34},{"r":4,"c":3,"s":"True","x":0.75,"y":-0.09},{"r":4,"c":3,"s":"True","x":0.8,"y":0.15},{"r":4,"c":3,"s":"True","x":0.84,"y":0.27},{"r":4,"c":3,"s":"True","x":0.88,"y":0.32},{"r":4,"c":3,"s":"True","x":0.94,"y":0.27},{"r":4,"c":3,"s":"True","x":1,"y":0.14},

{"r":1,"c":1,"s":"SM","x":0,"y":-0.44},{"r":1,"c":1,"s":"SM","x":0.29,"y":0.34},{"r":1,"c":1,"s":"SM","x":0.43,"y":0.31},{"r":1,"c":1,"s":"SM","x":0.52,"y":-0.14},{"r":1,"c":1,"s":"SM","x":0.63,"y":-0.15},{"r":1,"c":1,"s":"SM","x":1,"y":0.19},
{"r":1,"c":2,"s":"SM","x":0,"y":-0.93},{"r":1,"c":2,"s":"SM","x":0.1,"y":-0.45},{"r":1,"c":2,"s":"SM","x":0.2,"y":0.15},{"r":1,"c":2,"s":"SM","x":0.25,"y":0.45},{"r":1,"c":2,"s":"SM","x":0.3,"y":0.66},{"r":1,"c":2,"s":"SM","x":0.35,"y":0.72},{"r":1,"c":2,"s":"SM","x":0.4,"y":0.62},{"r":1,"c":2,"s":"SM","x":0.45,"y":0.4},{"r":1,"c":2,"s":"SM","x":0.5,"y":0.1},{"r":1,"c":2,"s":"SM","x":0.55,"y":-0.18},{"r":1,"c":2,"s":"SM","x":0.6,"y":-0.4},{"r":1,"c":2,"s":"SM","x":0.65,"y":-0.5},{"r":1,"c":2,"s":"SM","x":0.7,"y":-0.43},{"r":1,"c":2,"s":"SM","x":0.8,"y":-0.08},{"r":1,"c":2,"s":"SM","x":0.9,"y":0.27},{"r":1,"c":2,"s":"SM","x":1,"y":0.63},
{"r":1,"c":3,"s":"SM","x":0,"y":-0.96},{"r":1,"c":3,"s":"SM","x":0.34,"y":0.85},{"r":1,"c":3,"s":"SM","x":0.6,"y":-0.58},{"r":1,"c":3,"s":"SM","x":1,"y":0.44},
{"r":2,"c":1,"s":"SM","x":0,"y":-0.17},{"r":2,"c":1,"s":"SM","x":0.17,"y":-0.16},{"r":2,"c":1,"s":"SM","x":0.25,"y":0.33},{"r":2,"c":1,"s":"SM","x":0.44,"y":0.33},{"r":2,"c":1,"s":"SM","x":0.53,"y":-0.16},{"r":2,"c":1,"s":"SM","x":0.68,"y":-0.16},{"r":2,"c":1,"s":"SM","x":1,"y":-0.03},
{"r":2,"c":2,"s":"SM","x":0,"y":-1.3},{"r":2,"c":2,"s":"SM","x":0.1,"y":-0.5},{"r":2,"c":2,"s":"SM","x":0.15,"y":0.0},{"r":2,"c":2,"s":"SM","x":0.2,"y":0.4},{"r":2,"c":2,"s":"SM","x":0.25,"y":0.66},{"r":2,"c":2,"s":"SM","x":0.3,"y":0.77},{"r":2,"c":2,"s":"SM","x":0.35,"y":0.74},{"r":2,"c":2,"s":"SM","x":0.4,"y":0.58},{"r":2,"c":2,"s":"SM","x":0.45,"y":0.32},{"r":2,"c":2,"s":"SM","x":0.5,"y":0.03},{"r":2,"c":2,"s":"SM","x":0.55,"y":-0.2},{"r":2,"c":2,"s":"SM","x":0.6,"y":-0.36},{"r":2,"c":2,"s":"SM","x":0.65,"y":-0.42},{"r":2,"c":2,"s":"SM","x":0.7,"y":-0.38},{"r":2,"c":2,"s":"SM","x":0.8,"y":0.05},{"r":2,"c":2,"s":"SM","x":0.9,"y":0.58},{"r":2,"c":2,"s":"SM","x":1,"y":1.1},
{"r":2,"c":3,"s":"SM","x":0,"y":-1.09},{"r":2,"c":3,"s":"SM","x":0.34,"y":0.9},{"r":2,"c":3,"s":"SM","x":0.6,"y":-0.6},{"r":2,"c":3,"s":"SM","x":1,"y":0.71},
{"r":3,"c":1,"s":"SM","x":0,"y":-0.57},{"r":3,"c":1,"s":"SM","x":0.13,"y":-0.5},{"r":3,"c":1,"s":"SM","x":0.22,"y":0.28},{"r":3,"c":1,"s":"SM","x":0.42,"y":0.28},{"r":3,"c":1,"s":"SM","x":0.52,"y":-0.05},{"r":3,"c":1,"s":"SM","x":1,"y":-0.05},
{"r":3,"c":2,"s":"SM","x":0,"y":-1.45},{"r":3,"c":2,"s":"SM","x":0.1,"y":-0.7},{"r":3,"c":2,"s":"SM","x":0.2,"y":0.1},{"r":3,"c":2,"s":"SM","x":0.3,"y":0.6},{"r":3,"c":2,"s":"SM","x":0.35,"y":0.7},{"r":3,"c":2,"s":"SM","x":0.4,"y":0.65},{"r":3,"c":2,"s":"SM","x":0.5,"y":0.3},{"r":3,"c":2,"s":"SM","x":0.6,"y":-0.1},{"r":3,"c":2,"s":"SM","x":0.65,"y":-0.23},{"r":3,"c":2,"s":"SM","x":0.7,"y":-0.2},{"r":3,"c":2,"s":"SM","x":0.8,"y":0.05},{"r":3,"c":2,"s":"SM","x":0.9,"y":0.27},{"r":3,"c":2,"s":"SM","x":1,"y":0.48},
{"r":3,"c":3,"s":"SM","x":0,"y":-1.5},{"r":3,"c":3,"s":"SM","x":0.33,"y":0.88},{"r":3,"c":3,"s":"SM","x":0.63,"y":-0.38},{"r":3,"c":3,"s":"SM","x":1,"y":0.47},
{"r":4,"c":1,"s":"SM","x":0,"y":-0.61},{"r":4,"c":1,"s":"SM","x":0.09,"y":-0.6},{"r":4,"c":1,"s":"SM","x":0.13,"y":-0.51},{"r":4,"c":1,"s":"SM","x":0.22,"y":0.18},{"r":4,"c":1,"s":"SM","x":0.43,"y":0.18},{"r":4,"c":1,"s":"SM","x":0.5,"y":-0.16},{"r":4,"c":1,"s":"SM","x":1,"y":-0.16},
{"r":4,"c":2,"s":"SM","x":0,"y":-1.47},{"r":4,"c":2,"s":"SM","x":0.1,"y":-0.75},{"r":4,"c":2,"s":"SM","x":0.2,"y":0.05},{"r":4,"c":2,"s":"SM","x":0.28,"y":0.5},{"r":4,"c":2,"s":"SM","x":0.34,"y":0.6},{"r":4,"c":2,"s":"SM","x":0.4,"y":0.5},{"r":4,"c":2,"s":"SM","x":0.5,"y":0.05},{"r":4,"c":2,"s":"SM","x":0.6,"y":-0.35},{"r":4,"c":2,"s":"SM","x":0.66,"y":-0.45},{"r":4,"c":2,"s":"SM","x":0.72,"y":-0.38},{"r":4,"c":2,"s":"SM","x":0.8,"y":-0.1},{"r":4,"c":2,"s":"SM","x":0.9,"y":0.3},{"r":4,"c":2,"s":"SM","x":1,"y":0.68},
{"r":4,"c":3,"s":"SM","x":0,"y":-1.47},{"r":4,"c":3,"s":"SM","x":0.33,"y":0.9},{"r":4,"c":3,"s":"SM","x":0.6,"y":-0.6},{"r":4,"c":3,"s":"SM","x":1,"y":0.55},

{"r":1,"c":1,"s":"RaT","x":0,"y":-0.97},{"r":1,"c":1,"s":"RaT","x":0.06,"y":-1.13},{"r":1,"c":1,"s":"RaT","x":0.14,"y":-0.6},{"r":1,"c":1,"s":"RaT","x":0.25,"y":0.66},{"r":1,"c":1,"s":"RaT","x":0.28,"y":0.79},{"r":1,"c":1,"s":"RaT","x":0.32,"y":0.83},{"r":1,"c":1,"s":"RaT","x":0.37,"y":0.79},{"r":1,"c":1,"s":"RaT","x":0.44,"y":0.41},{"r":1,"c":1,"s":"RaT","x":0.51,"y":-0.09},{"r":1,"c":1,"s":"RaT","x":0.58,"y":-0.51},{"r":1,"c":1,"s":"RaT","x":0.65,"y":-0.61},{"r":1,"c":1,"s":"RaT","x":0.71,"y":-0.26},{"r":1,"c":1,"s":"RaT","x":0.81,"y":0.19},{"r":1,"c":1,"s":"RaT","x":0.9,"y":0.25},{"r":1,"c":1,"s":"RaT","x":1,"y":0.13},
{"r":1,"c":2,"s":"RaT","x":0,"y":-1.18},{"r":1,"c":2,"s":"RaT","x":0.03,"y":-1.41},{"r":1,"c":2,"s":"RaT","x":0.11,"y":-0.98},{"r":1,"c":2,"s":"RaT","x":0.18,"y":-0.26},{"r":1,"c":2,"s":"RaT","x":0.27,"y":0.63},{"r":1,"c":2,"s":"RaT","x":0.33,"y":0.83},{"r":1,"c":2,"s":"RaT","x":0.38,"y":0.79},{"r":1,"c":2,"s":"RaT","x":0.47,"y":0.13},{"r":1,"c":2,"s":"RaT","x":0.54,"y":-0.43},{"r":1,"c":2,"s":"RaT","x":0.6,"y":-0.58},{"r":1,"c":2,"s":"RaT","x":0.65,"y":-0.57},{"r":1,"c":2,"s":"RaT","x":0.72,"y":-0.21},{"r":1,"c":2,"s":"RaT","x":0.79,"y":0.19},{"r":1,"c":2,"s":"RaT","x":0.9,"y":0.38},{"r":1,"c":2,"s":"RaT","x":1,"y":0.1},
{"r":1,"c":3,"s":"RaT","x":0,"y":-0.8},{"r":1,"c":3,"s":"RaT","x":0.05,"y":-1.3},{"r":1,"c":3,"s":"RaT","x":0.3,"y":0.85},{"r":1,"c":3,"s":"RaT","x":0.35,"y":0.87},{"r":1,"c":3,"s":"RaT","x":0.6,"y":-0.64},{"r":1,"c":3,"s":"RaT","x":0.83,"y":0.22},{"r":1,"c":3,"s":"RaT","x":1,"y":0.21},
{"r":2,"c":1,"s":"RaT","x":0,"y":-0.84},{"r":2,"c":1,"s":"RaT","x":0.054,"y":-1.18},{"r":2,"c":1,"s":"RaT","x":0.17,"y":-0.43},{"r":2,"c":1,"s":"RaT","x":0.26,"y":0.6},{"r":2,"c":1,"s":"RaT","x":0.31,"y":0.83},{"r":2,"c":1,"s":"RaT","x":0.36,"y":0.84},{"r":2,"c":1,"s":"RaT","x":0.45,"y":0.42},{"r":2,"c":1,"s":"RaT","x":0.53,"y":-0.32},{"r":2,"c":1,"s":"RaT","x":0.61,"y":-0.59},{"r":2,"c":1,"s":"RaT","x":0.66,"y":-0.53},{"r":2,"c":1,"s":"RaT","x":0.83,"y":0.29},{"r":2,"c":1,"s":"RaT","x":1,"y":0.25},
{"r":2,"c":2,"s":"RaT","x":0,"y":-1.04},{"r":2,"c":2,"s":"RaT","x":0.02,"y":-1.25},{"r":2,"c":2,"s":"RaT","x":0.09,"y":-1.03},{"r":2,"c":2,"s":"RaT","x":0.18,"y":-0.33},{"r":2,"c":2,"s":"RaT","x":0.27,"y":0.67},{"r":2,"c":2,"s":"RaT","x":0.32,"y":0.85},{"r":2,"c":2,"s":"RaT","x":0.35,"y":0.85},{"r":2,"c":2,"s":"RaT","x":0.42,"y":0.58},{"r":2,"c":2,"s":"RaT","x":0.5,"y":0.0},{"r":2,"c":2,"s":"RaT","x":0.6,"y":-0.55},{"r":2,"c":2,"s":"RaT","x":0.64,"y":-0.55},{"r":2,"c":2,"s":"RaT","x":0.72,"y":-0.17},{"r":2,"c":2,"s":"RaT","x":0.87,"y":0.51},{"r":2,"c":2,"s":"RaT","x":1,"y":-0.37},
{"r":2,"c":3,"s":"RaT","x":0,"y":-0.88},{"r":2,"c":3,"s":"RaT","x":0.085,"y":-0.89},{"r":2,"c":3,"s":"RaT","x":0.34,"y":0.89},{"r":2,"c":3,"s":"RaT","x":0.6,"y":-0.65},{"r":2,"c":3,"s":"RaT","x":1,"y":0.57},
{"r":3,"c":1,"s":"RaT","x":0,"y":-1.05},{"r":3,"c":1,"s":"RaT","x":0.07,"y":-1.13},{"r":3,"c":1,"s":"RaT","x":0.12,"y":-0.7},{"r":3,"c":1,"s":"RaT","x":0.2,"y":0.1},{"r":3,"c":1,"s":"RaT","x":0.27,"y":0.75},{"r":3,"c":1,"s":"RaT","x":0.32,"y":0.8},{"r":3,"c":1,"s":"RaT","x":0.4,"y":0.78},{"r":3,"c":1,"s":"RaT","x":0.45,"y":0.35},{"r":3,"c":1,"s":"RaT","x":0.52,"y":-0.4},{"r":3,"c":1,"s":"RaT","x":0.6,"y":-0.62},{"r":3,"c":1,"s":"RaT","x":0.65,"y":-0.5},{"r":3,"c":1,"s":"RaT","x":0.75,"y":0.05},{"r":3,"c":1,"s":"RaT","x":0.88,"y":0.32},{"r":3,"c":1,"s":"RaT","x":1,"y":0.15},
{"r":3,"c":2,"s":"RaT","x":0,"y":-1.02},{"r":3,"c":2,"s":"RaT","x":0.1,"y":-1.0},{"r":3,"c":2,"s":"RaT","x":0.2,"y":-0.1},{"r":3,"c":2,"s":"RaT","x":0.3,"y":0.75},{"r":3,"c":2,"s":"RaT","x":0.35,"y":0.9},{"r":3,"c":2,"s":"RaT","x":0.4,"y":0.8},{"r":3,"c":2,"s":"RaT","x":0.5,"y":0.15},{"r":3,"c":2,"s":"RaT","x":0.6,"y":-0.45},{"r":3,"c":2,"s":"RaT","x":0.63,"y":-0.5},{"r":3,"c":2,"s":"RaT","x":0.7,"y":-0.3},{"r":3,"c":2,"s":"RaT","x":0.8,"y":0.2},{"r":3,"c":2,"s":"RaT","x":0.87,"y":0.38},{"r":3,"c":2,"s":"RaT","x":1,"y":0.25},
{"r":3,"c":3,"s":"RaT","x":0,"y":-1.05},{"r":3,"c":3,"s":"RaT","x":0.1,"y":-1.05},{"r":3,"c":3,"s":"RaT","x":0.3,"y":0.93},{"r":3,"c":3,"s":"RaT","x":0.33,"y":0.95},{"r":3,"c":3,"s":"RaT","x":0.6,"y":-0.55},{"r":3,"c":3,"s":"RaT","x":0.85,"y":0.35},{"r":3,"c":3,"s":"RaT","x":1,"y":0.22},
{"r":4,"c":1,"s":"RaT","x":0,"y":-0.99},{"r":4,"c":1,"s":"RaT","x":0.05,"y":-1.17},{"r":4,"c":1,"s":"RaT","x":0.09,"y":-1.11},{"r":4,"c":1,"s":"RaT","x":0.25,"y":0.64},{"r":4,"c":1,"s":"RaT","x":0.32,"y":0.83},{"r":4,"c":1,"s":"RaT","x":0.37,"y":0.77},{"r":4,"c":1,"s":"RaT","x":0.46,"y":0.21},{"r":4,"c":1,"s":"RaT","x":0.58,"y":-0.6},{"r":4,"c":1,"s":"RaT","x":0.65,"y":-0.63},{"r":4,"c":1,"s":"RaT","x":0.73,"y":-0.21},{"r":4,"c":1,"s":"RaT","x":0.87,"y":0.35},{"r":4,"c":1,"s":"RaT","x":1,"y":0.13},
{"r":4,"c":2,"s":"RaT","x":0,"y":-1.03},{"r":4,"c":2,"s":"RaT","x":0.1,"y":-1.0},{"r":4,"c":2,"s":"RaT","x":0.2,"y":-0.1},{"r":4,"c":2,"s":"RaT","x":0.28,"y":0.65},{"r":4,"c":2,"s":"RaT","x":0.33,"y":0.88},{"r":4,"c":2,"s":"RaT","x":0.38,"y":0.8},{"r":4,"c":2,"s":"RaT","x":0.5,"y":0.0},{"r":4,"c":2,"s":"RaT","x":0.6,"y":-0.55},{"r":4,"c":2,"s":"RaT","x":0.63,"y":-0.6},{"r":4,"c":2,"s":"RaT","x":0.7,"y":-0.35},{"r":4,"c":2,"s":"RaT","x":0.8,"y":0.15},{"r":4,"c":2,"s":"RaT","x":0.88,"y":0.42},{"r":4,"c":2,"s":"RaT","x":1,"y":0.15},
{"r":4,"c":3,"s":"RaT","x":0,"y":-1.03},{"r":4,"c":3,"s":"RaT","x":0.07,"y":-1.07},{"r":4,"c":3,"s":"RaT","x":0.33,"y":0.93},{"r":4,"c":3,"s":"RaT","x":0.6,"y":-0.6},{"r":4,"c":3,"s":"RaT","x":0.85,"y":0.3},{"r":4,"c":3,"s":"RaT","x":1,"y":0.28},

{"r":1,"c":1,"s":"let","t":"B"},{"r":1,"c":2,"s":"let","t":"C"},{"r":1,"c":3,"s":"let","t":"D"},
{"r":2,"c":1,"s":"let","t":"F"},{"r":2,"c":2,"s":"let","t":"G"},{"r":2,"c":3,"s":"let","t":"H"},
{"r":3,"c":1,"s":"let","t":"J"},{"r":3,"c":2,"s":"let","t":"K"},{"r":3,"c":3,"s":"let","t":"L"},
{"r":4,"c":1,"s":"let","t":"N"},{"r":4,"c":2,"s":"let","t":"O"},{"r":4,"c":3,"s":"let","t":"P"}
],
"cap": [
{"i":1,"b":"Figure 1.","t":"Comparison of the RaT and SM estimates when the student class ℱ is a two-layer neural"},
{"i":2,"t":"network with 128 hidden units. Shown are results for four different covariate shifts (rows 1–4), and"},
{"i":3,"t":"three different teacher models (columns 2–4).  Each row corresponds to a different source–target"},
{"i":4,"t":"distribution pair, shown in the leftmost column via their marginal densities. The remaining columns"},
{"i":5,"t":"report results for three teacher classes: Boosting, Kernel ridge regression (KRR), and ReLU neural"},
{"i":6,"t":"network fits. In each panel, the true regression function is shown as a dotted orange line, while the"},
{"i":7,"t":"estimates obtained by SM and RaT are shown in red and blue, respectively. Gray points indicate source"},
{"i":8,"t":"samples. Intermediate RaT iterates are shown as faint curves to illustrate the refinement process.","w":"@爱吖吖-爱生活"}
]
},
"center": true,
"spacing": 16,
"vconcat": [
{
 "spacing": 3,
 "resolve": {"scale": {"color": "independent"}},
 "hconcat": [
  {
   "data": {"name": "dens"},
   "facet": {
     "row": {"field": "r", "type": "ordinal", "header": {"title": null, "labels": false}},
     "column": {"field": "g", "type": "nominal", "header": {"title": null, "labelExpr": "' '"}}
   },
   "spacing": {"row": 10, "column": 10},
   "spec": {
     "width": 215, "height": 196,
     "layer": [
       {"transform": [{"filter": "datum.s == 'Source' && datum.r != 3"}],
        "mark": {"type": "area", "interpolate": "monotone", "color": "#7a7a7a", "opacity": 0.12},
        "encoding": {
          "x": {"field": "x", "type": "quantitative", "scale": {"domain": [-0.05, 1.05], "nice": false, "zero": false}, "axis": {"values": [0, 0.2, 0.4, 0.6, 0.8, 1], "tickCount": 20, "format": ".1f", "title": "x", "labelOverlap": false}},
          "y": {"field": "y", "type": "quantitative", "scale": {"domain": [-0.1, 2.79], "nice": false, "zero": false}, "axis": {"values": [0, 0.5, 1, 1.5, 2, 2.5], "tickCount": 20, "labels": false, "title": "Density", "titlePadding": 6}},
          "y2": {"datum": 0}}},
       {"transform": [{"filter": "datum.s == 'Source' && datum.r == 3"}],
        "mark": {"type": "area", "interpolate": "step-after", "color": "#7a7a7a", "opacity": 0.12},
        "encoding": {"x": {"field": "x", "type": "quantitative"}, "y": {"field": "y", "type": "quantitative"}, "y2": {"datum": 0}}},
       {"transform": [{"filter": "datum.s == 'Target'"}],
        "mark": {"type": "area", "interpolate": "monotone", "color": "#5b9c78", "opacity": 0.17},
        "encoding": {"x": {"field": "x", "type": "quantitative"}, "y": {"field": "y", "type": "quantitative"}, "y2": {"datum": 0}}},
       {"transform": [{"filter": "datum.s == 'Source' && datum.r != 3"}],
        "mark": {"type": "line", "interpolate": "monotone", "strokeWidth": 1.8},
        "encoding": {"x": {"field": "x", "type": "quantitative"}, "y": {"field": "y", "type": "quantitative"},
          "color": {"field": "s", "type": "nominal", "scale": {"domain": ["Source", "Target"], "range": ["#6e6e6e", "#5b9c78"]}, "legend": {"orient": "none", "legendX": 4, "legendY": 22, "title": null}}}},
       {"transform": [{"filter": "datum.s == 'Source' && datum.r == 3"}],
        "mark": {"type": "line", "interpolate": "step-after", "strokeWidth": 1.8},
        "encoding": {"x": {"field": "x", "type": "quantitative"}, "y": {"field": "y", "type": "quantitative"}, "color": {"field": "s", "type": "nominal"}}},
       {"transform": [{"filter": "datum.s == 'Target'"}],
        "mark": {"type": "line", "interpolate": "monotone", "strokeWidth": 1.8},
        "encoding": {"x": {"field": "x", "type": "quantitative"}, "y": {"field": "y", "type": "quantitative"}, "color": {"field": "s", "type": "nominal"}}},
       {"transform": [{"filter": "datum.s == 'let'"}],
        "mark": {"type": "point", "shape": "square", "filled": true, "color": "#ffffff", "opacity": 1, "size": 180},
        "encoding": {"x": {"datum": -0.014}, "y": {"datum": 2.62}}},
       {"transform": [{"filter": "datum.s == 'let'"}],
        "mark": {"type": "text", "fontWeight": "bold", "fontSize": 10.5, "color": "#000"},
        "encoding": {"x": {"datum": -0.014}, "y": {"datum": 2.62}, "text": {"field": "t"}}},
       {"transform": [{"filter": "datum.s == 'lab'"}],
        "mark": {"type": "text", "align": "right", "fontSize": 9, "color": "#222"},
        "encoding": {"x": {"datum": 1.025}, "y": {"datum": 2.46}, "text": {"field": "t"}}}
     ]
   }
  },
  {
   "data": {"name": "reg"},
   "facet": {
     "row": {"field": "r", "type": "ordinal", "header": {"title": null, "labels": false}},
     "column": {"field": "c", "type": "ordinal", "header": {"title": null, "labelExpr": "datum.value == 1 ? 'Boosting' : datum.value == 2 ? 'KRR' : 'Neural net'"}}
   },
   "spacing": {"row": 10, "column": 10},
   "spec": {
     "width": 215, "height": 196,
     "layer": [
       {"transform": [{"filter": "datum.s == 'pt'"}],
        "mark": {"type": "circle", "size": 14, "color": "#8a8a8a", "opacity": 0.2},
        "encoding": {
          "x": {"field": "x", "type": "quantitative", "scale": {"domain": [-0.05, 1.05], "nice": false, "zero": false}, "axis": {"values": [0, 0.2, 0.4, 0.6, 0.8, 1], "tickCount": 20, "format": ".1f", "title": "x", "labelOverlap": false}},
          "y": {"field": "y", "type": "quantitative", "scale": {"domain": [-1.78, 1.5], "nice": false, "zero": false}, "axis": {"values": [-1.5, -1, -0.5, 0, 0.5, 1, 1.5], "tickCount": 20, "format": ".1f", "title": "y", "titlePadding": 4, "labelOverlap": false}}}},
       {"transform": [{"filter": "datum.s == 'it'"}],
        "mark": {"type": "line", "color": "#b3bfcc", "strokeWidth": 1, "opacity": 0.8},
        "encoding": {"x": {"field": "x", "type": "quantitative"}, "y": {"field": "y", "type": "quantitative"}}},
       {"transform": [{"filter": "datum.s == 'True'"}],
        "mark": {"type": "line", "interpolate": "monotone", "strokeDash": [4, 2.5], "strokeWidth": 1.6},
        "encoding": {"x": {"field": "x", "type": "quantitative"}, "y": {"field": "y", "type": "quantitative"},
          "color": {"field": "s", "type": "nominal", "scale": {"domain": ["True", "SM", "RaT"], "range": ["#f0963c", "#c0392b", "#3a75c4"]}, "legend": {"orient": "none", "legendX": 4, "legendY": 21, "title": null, "symbolDash": [1, 0]}}}},
       {"transform": [{"filter": "datum.s == 'SM'"}],
        "mark": {"type": "line", "strokeWidth": 1.5},
        "encoding": {"x": {"field": "x", "type": "quantitative"}, "y": {"field": "y", "type": "quantitative"}, "color": {"field": "s", "type": "nominal"}}},
       {"transform": [{"filter": "datum.s == 'RaT'"}],
        "mark": {"type": "line", "strokeWidth": 1.6},
        "encoding": {"x": {"field": "x", "type": "quantitative"}, "y": {"field": "y", "type": "quantitative"}, "color": {"field": "s", "type": "nominal"}}},
       {"transform": [{"filter": "datum.s == 'let'"}],
        "mark": {"type": "point", "shape": "square", "filled": true, "color": "#ffffff", "opacity": 1, "size": 180},
        "encoding": {"x": {"datum": -0.014}, "y": {"datum": 1.32}}},
       {"transform": [{"filter": "datum.s == 'let'"}],
        "mark": {"type": "text", "fontWeight": "bold", "fontSize": 10.5, "color": "#000"},
        "encoding": {"x": {"datum": -0.014}, "y": {"datum": 1.32}, "text": {"field": "t"}}}
     ]
   }
  }
 ]
},
{
 "data": {"name": "cap"},
 "width": 1008, "height": 208,
 "view": {"fill": null, "stroke": null},
 "layer": [
   {"transform": [{"filter": "datum.i == 1"}],
    "mark": {"type": "text", "align": "left", "baseline": "middle", "font": "Liberation Serif", "fontSize": 24, "fontWeight": "bold", "color": "#111"},
    "encoding": {"x": {"datum": 0, "type": "quantitative", "scale": {"domain": [0, 1], "nice": false, "zero": false}, "axis": null},
                 "y": {"field": "i", "type": "quantitative", "scale": {"domain": [0.5, 8.5], "reverse": true, "nice": false, "zero": false}, "axis": null},
                 "text": {"field": "b"}}},
   {"transform": [{"filter": "datum.i == 1"}],
    "mark": {"type": "text", "align": "left", "baseline": "middle", "font": "Liberation Serif", "fontSize": 24, "color": "#111"},
    "encoding": {"x": {"datum": 0.1165, "type": "quantitative"}, "y": {"field": "i", "type": "quantitative"}, "text": {"field": "t"}}},
   {"transform": [{"filter": "datum.i > 1"}],
    "mark": {"type": "text", "align": "left", "baseline": "middle", "font": "Liberation Serif", "fontSize": 24, "color": "#111"},
    "encoding": {"x": {"datum": 0, "type": "quantitative"}, "y": {"field": "i", "type": "quantitative"}, "text": {"field": "t"}}},
   {"transform": [{"filter": "datum.w"}],
    "mark": {"type": "text", "align": "right", "baseline": "middle", "font": "Noto Sans CJK SC", "fontSize": 21, "color": "#f4f4f4", "stroke": "#777", "strokeWidth": 0.7},
    "encoding": {"x": {"datum": 1, "type": "quantitative"}, "y": {"datum": 8.7, "type": "quantitative"}, "text": {"field": "w"}}}
 ]
}
]
}
